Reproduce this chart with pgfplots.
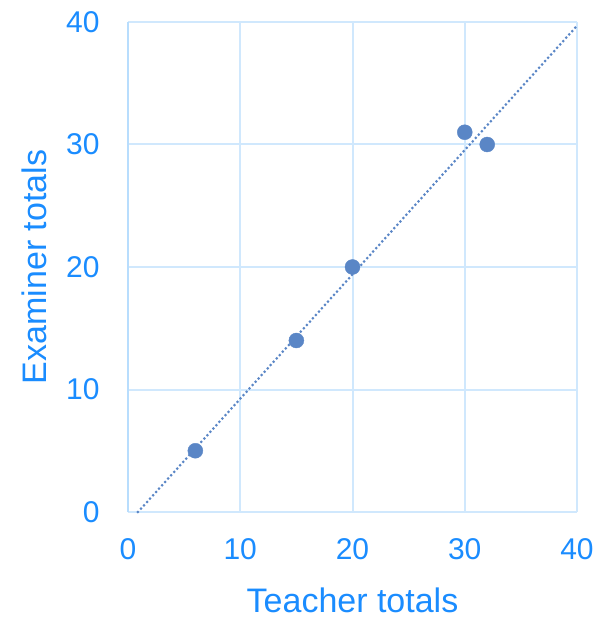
\documentclass[border=0pt]{standalone}
\usepackage{pgfplots}
\pgfplotsset{compat=1.18}
\usepackage{fontspec}
\setmainfont{Liberation Sans}
\definecolor{txtblue}{HTML}{1A8CFF}
\definecolor{gridblue}{HTML}{D0E8FD}
\definecolor{axblue}{HTML}{B8DDFD}
\definecolor{mk}{HTML}{5A86C6}
\begin{document}
\begin{tikzpicture}
\path[use as bounding box] (-128pt,-106pt) rectangle (479pt,512pt);
\begin{axis}[
  at={(0,0)}, anchor=origin,
  scale only axis, width=449pt, height=490pt,
  xmin=0, xmax=40, ymin=0, ymax=40,
  xtick={0,10,20,30,40}, ytick={0,10,20,30,40},
  axis line style={draw=none},
  grid=major, major grid style={gridblue, line width=2pt},
  tick style={draw=none},
  /pgf/number format/assume math mode=true,
  ticklabel style={font=\fontsize{30}{30}\selectfont, text=txtblue},
  xticklabel style={yshift=-23pt},
  yticklabel style={xshift=-25pt},
  xlabel={Teacher totals}, ylabel={Examiner totals},
  label style={font=\fontsize{34}{34}\selectfont, text=txtblue},
  xlabel style={yshift=-21pt},
  ylabel style={yshift=12pt},
  clip=false,
]
\addplot[axblue, line width=2.5pt] coordinates {(0,0) (0,40)};
\addplot[mk, line width=3pt, dash pattern=on 0pt off 4.5pt, line cap=round] coordinates {(0.89,0) (40,39.69)};
\addplot[only marks, mark=*, mark size=7.5pt, mark options={fill=mk, draw=mk}] coordinates {(6,5) (15,14) (20,20) (30,31) (32,30)};
\end{axis}
\end{tikzpicture}
\end{document}
